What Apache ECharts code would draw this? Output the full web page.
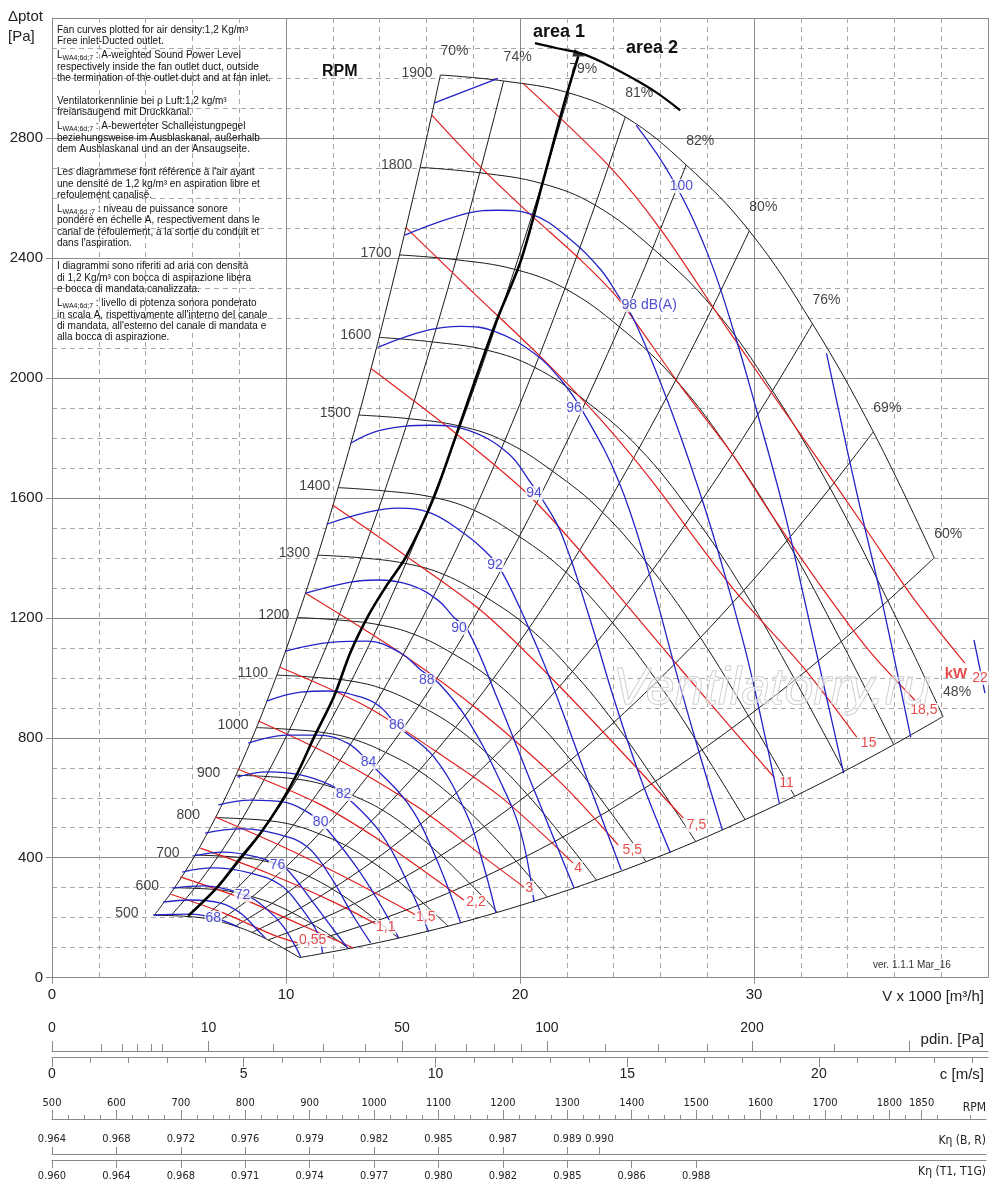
<!DOCTYPE html>
<html><head><meta charset="utf-8">
<script src="https://cdn.jsdelivr.net/npm/echarts@6/dist/echarts.min.js"></script>
<style>html,body{margin:0;padding:0;background:#fff}#c{width:1000px;height:1184px}</style>
</head><body><div id="c"></div>
<script>
// ---------------- DATA ----------------
const rpmValues = [500,600,700,800,900,1000,1100,1200,1300,1400,1500,1600,1700,1800,1900];
// fan curves, points at the crossings with the efficiency lines [V x1000 m3/h, Pa]
const rpmCurves = [
 [[4.37,208],[5.08,207],[5.82,204],[6.45,199],[7.13,188],[7.84,172],[8.55,151],[9.24,126],[9.92,97],[10.58,67]],
 [[5.24,300],[6.09,298],[6.98,294],[7.74,286],[8.56,270],[9.41,248],[10.26,217],[11.08,181],[11.91,140],[12.69,97]],
 [[6.12,409],[7.11,406],[8.14,400],[9.03,390],[9.98,368],[10.98,338],[11.97,296],[12.93,247],[13.89,190],[14.81,132]],
 [[6.99,534],[8.13,530],[9.31,523],[10.32,509],[11.41,480],[12.55,441],[13.68,386],[14.78,323],[15.87,248],[16.93,172]],
 [[7.86,675],[9.14,671],[10.47,662],[11.61,644],[12.84,608],[14.12,559],[15.39,489],[16.63,408],[17.86,314],[19.04,218]],
 [[8.74,834],[10.16,828],[11.63,817],[12.89,795],[14.26,751],[15.68,690],[17.11,604],[18.47,504],[19.84,388],[21.16,269]],
 [[9.61,1009],[11.17,1002],[12.79,989],[14.18,962],[15.69,908],[17.25,835],[18.82,731],[20.32,610],[21.83,469],[23.27,325]],
 [[10.48,1201],[12.19,1193],[13.96,1177],[15.47,1145],[17.12,1081],[18.82,993],[20.53,870],[22.17,726],[23.81,558],[25.39,387]],
 [[11.36,1409],[13.21,1400],[15.12,1381],[16.76,1344],[18.54,1269],[20.39,1166],[22.24,1021],[24.02,852],[25.79,655],[27.51,454]],
 [[12.23,1634],[14.22,1623],[16.28,1602],[18.05,1558],[19.97,1471],[21.96,1352],[23.95,1184],[25.86,988],[27.78,760],[29.62,527]],
 [[13.11,1876],[15.24,1864],[17.45,1839],[19.34,1789],[21.39,1689],[23.53,1552],[25.66,1359],[27.71,1134],[29.76,873],[31.74,605]],
 [[13.98,2135],[16.25,2120],[18.61,2092],[20.63,2035],[22.82,1922],[25.09,1766],[27.37,1546],[29.56,1291],[31.75,993],[33.85,688]],
 [[14.85,2410],[17.27,2394],[19.77,2362],[21.92,2298],[24.25,2170],[26.66,1993],[29.08,1745],[31.41,1457],[33.73,1121],[35.97,777]],
 [[15.73,2702],[18.28,2684],[20.94,2648],[23.21,2576],[25.67,2432],[28.23,2235],[30.79,1957],[33.25,1633],[35.72,1257],[38.08,871]],
 [[16.6,3010],[19.3,2990],[22.1,2950],[24.5,2870],[27.1,2710],[29.8,2490],[32.5,2180],[35.1,1820],[37.7,1400]]
];
const effLabels = ['70%','74%','79%','81%','82%','80%','76%','69%','60%','48%'];

// sound power level curves dB(A)
const dbCurves = [
 [[4.33,209],[5.91,212],[6.98,199],[7.97,169]],
 [[4.75,252],[5.91,259],[7.20,249],[8.05,216],[8.78,159],[9.12,132]],
 [[5.14,299],[6.47,306],[7.62,292],[8.14,276],[8.69,259],[9.77,182],[10.49,92],[10.62,69]],
 [[5.57,352],[6.90,366],[8.48,349],[9.77,309],[10.62,236],[11.35,149],[11.56,82]],
 [[6.04,406],[7.32,419],[8.78,402],[9.64,376],[10.07,359],[11.18,249],[12.04,159],[12.63,99]],
 [[6.55,482],[8.05,496],[9.77,476],[10.92,436],[11.91,336],[12.85,209],[13.62,116]],
 [[7.11,576],[8.48,592],[9.89,586],[10.92,552],[11.48,519],[12.89,382],[13.92,259],[14.82,132]],
 [[7.92,669],[9.21,686],[10.62,676],[11.91,642],[12.46,612],[14.05,482],[15.20,316],[16.10,152]],
 [[8.39,782],[10.07,809],[11.35,809],[12.63,782],[13.53,719],[15.20,582],[16.32,416],[17.47,182]],
 [[9.17,922],[10.62,952],[11.78,956],[13.19,936],[14.05,902],[14.73,842],[16.32,736],[17.77,536],[18.46,369],[18.97,216]],
 [[9.98,1089],[12.04,1119],[13.49,1122],[14.91,1082],[15.76,1026],[16.53,982],[17.77,859],[19.19,649],[20.04,482],[20.60,252]],
 [[10.84,1282],[12.76,1319],[13.92,1326],[15.33,1309],[16.49,1259],[17.17,1202],[17.77,1159],[19.06,926],[20.69,609],[22.31,299]],
 [[11.74,1512],[13.32,1549],[14.78,1566],[16.19,1549],[17.60,1482],[18.46,1426],[19.19,1359],[20.60,1126],[21.63,926],[23.04,626],[24.33,359]],
 [[12.76,1782],[14.05,1826],[16.19,1842],[17.77,1826],[19.49,1749],[20.47,1649],[20.90,1602],[21.76,1482],[22.91,1216],[24.03,926],[25.18,659],[26.43,416]],
 [[13.92,2102],[16.06,2159],[17.47,2172],[18.89,2156],[20.60,2082],[21.76,1992],[22.70,1886],[24.20,1659],[25.48,1359],[26.77,992],[27.75,726],[28.65,492]],
 [[15.08,2476],[17.77,2549],[19.06,2559],[20.47,2546],[22.19,2459],[23.47,2359],[24.24,2269],[24.88,2192],[26.34,1916],[27.75,1602],[28.61,1382],[29.60,1102],[30.32,859],[31.09,579]],
 [[16.32,2916],[19.06,2999]],
 [[24.97,2842],[26.47,2669],[28.01,2416],[29.16,2149],[30.11,1892],[31.31,1549],[32.16,1259],[32.98,976],[33.83,682]],
 [[33.10,2082],[34.05,1736],[34.69,1516],[35.46,1259],[36.70,802]],
 [[39.40,1126],[39.87,949]]
];
const dbLabels = [
 [6.89,199,'68'],[8.14,276,'72'],[9.64,376,'76'],[11.48,519,'80'],[12.46,612,'82'],
 [13.53,719,'84'],[14.73,842,'86'],[16.02,992,'88'],[17.39,1166,'90'],[18.93,1376,'92'],
 [20.60,1616,'94'],[22.31,1899,'96'],[25.52,2242,'98 dB(A)'],[26.90,2639,'100']
];

// absorbed power curves kW
const kwCurves = [
 [[5.05,279],[7.32,216],[9.47,142],[10.49,116]],
 [[5.48,336],[8.05,266],[10.19,192],[12.89,99]],
 [[6.34,432],[9.21,349],[12.04,252],[13.92,176]],
 [[6.98,536],[9.89,436],[12.76,326],[15.55,209]],
 [[7.92,696],[11.35,582],[14.18,449],[17.60,259]],
 [[8.82,856],[12.04,736],[15.63,569],[18.46,402],[20.17,302]],
 [[9.72,1036],[13.49,902],[16.32,759],[19.19,602],[22.27,382]],
 [[10.84,1282],[14.91,1082],[18.33,886],[21.76,649],[24.20,442]],
 [[11.99,1576],[15.20,1402],[18.46,1216],[21.76,966],[26.98,532]],
 [[13.62,2032],[17.35,1809],[20.47,1602],[23.47,1342],[26.90,1026],[30.88,666]],
 [[15.12,2502],[17.90,2292],[20.90,2069],[23.47,1859],[25.61,1659],[29.16,1292],[32.03,1042],[34.39,802]],
 [[16.23,2876],[18.33,2702],[20.34,2552],[22.61,2392],[24.07,2276],[24.88,2192],[26.90,1969],[29.04,1749],[30.62,1559],[32.76,1316],[34.90,1092],[36.87,926]],
 [[20.13,2982],[23.81,2706],[26.04,2492],[28.99,2149],[32.46,1759],[34.73,1502],[36.87,1259],[39.01,1049]]
];
const kwLabels = [
 [11.14,126,'0,55'],[14.26,169,'1,1'],[15.97,202,'1,5'],[18.12,252,'2,2'],[20.39,299,'3'],
 [22.48,366,'4'],[24.80,426,'5,5'],[27.54,509,'7,5'],[31.39,649,'11'],[34.90,782,'15'],
 [37.26,893,'18,5'],[39.66,999,'22']
];
const kwTitle = [38.63,1012,'kW'];

// area 1 / area 2 boundary and arrow arc
const areaLine = [[5.82,206],[7.07,302],[8.05,399],[8.91,482],[9.77,582],[10.49,682],[11.18,799],[12.04,936],[12.76,1086],[13.53,1209],[14.31,1309],[15.12,1402],[16.32,1602],[17.39,1836],[18.89,2169],[20.04,2392],[21.03,2669],[21.89,2916],[22.49,3072]];
const areaArc = [[20.64,3116],[21.58,3099],[22.61,3082],[23.68,3046],[24.75,3002],[25.82,2952],[26.85,2892]];
const areaArrow = [22.53,3078];

// secondary scales
const pdinMajor = [0,10,50,100,200,300];
const pdinMinor = [1,2,3,4,5,20,30,40,60,70,80,90,125,150,175,250];
const pdinLabelVals = [0,10,50,100,200];
const cMajor = [0,5,10,15,20];
const cMinor = [1,2,3,4,6,7,8,9,11,12,13,14,16,17,18,19,21,22,23,24];
const rpmScaleLabels = [500,600,700,800,900,1000,1100,1200,1300,1400,1500,1600,1700,1800,1850];
const kBRrpm = [500,600,700,800,900,1000,1100,1200,1300,1350];
const kBR = ['0.964','0.968','0.972','0.976','0.979','0.982','0.985','0.987','0.989','0.990'];
const kT1rpm = [500,600,700,800,900,1000,1100,1200,1300,1400,1500];
const kT1 = ['0.960','0.964','0.968','0.971','0.974','0.977','0.980','0.982','0.985','0.986','0.988'];

const noteLines = [
 ['Fan curves plotted for air density:1,2 Kg/m³'],
 ['Free inlet-Ducted outlet.'],
 ['L','WA4;6d;7',' : A-weighted Sound Power Level'],
 ['respectively inside the fan outlet duct, outside'],
 ['the termination of the outlet duct and at fan inlet.'],
 [''],
 ['Ventilatorkennlinie bei ρ Luft:1,2 kg/m³'],
 ['freiansaugend mit Druckkanal.'],
 ['L','WA4;6d;7',' : A-bewerteter Schalleistungpegel'],
 ['beziehungsweise im Ausblaskanal, außerhalb'],
 ['dem Ausblaskanal und an der Ansaugseite.'],
 [''],
 ['Les diagrammese font référence à l\'air ayant'],
 ['une densité de 1,2 kg/m³ en aspiration libre et'],
 ['refoulement canalisé.'],
 ['L','WA4;6d ;7',' : niveau de puissance sonore'],
 ['pondéré en échelle A, respectivement dans le'],
 ['canal de réfoulement, à la sortie du conduit et'],
 ['dans l\'aspiration.'],
 [''],
 ['I diagrammi sono riferiti ad aria con densità'],
 ['di 1,2 Kg/m³ con bocca di aspirazione libera'],
 ['e bocca di mandata canalizzata.'],
 ['L','WA4;6d;7',' : livello di potenza sonora ponderato'],
 ['in scala A, rispettivamente all\'interno del canale'],
 ['di mandata, all\'esterno del canale di mandata e'],
 ['alla bocca di aspirazione.']
];

// ---------------- CHART ----------------
const FONT = "'Liberation Sans', Arial, Helvetica, sans-serif";
const NARROW = "'Liberation Sans Narrow', 'Arial Narrow', 'DejaVu Sans Condensed', 'Liberation Sans', sans-serif";
const BLACK = '#1a1a1a', BLUE = '#2323c8', RED = '#e01e1e', GRID = '#8a8a8a', GRID2 = '#a8a8a8';
const plain = v => String(v);

const series = [];
function addLine(data, color, width, z, smooth) {
  series.push({type:'line', xAxisIndex:0, yAxisIndex:0, data, showSymbol:false, symbol:'none',
    smooth, lineStyle:{color, width}, silent:true, z, animation:false});
}
rpmCurves.forEach(c => addLine(c, BLACK, 1, 3, 0.4));
effLabels.forEach((_, i) => addLine(rpmCurves.map(c => c[i]).filter(Boolean), BLACK, 1, 3, 0.3));
kwCurves.forEach(c => addLine(c, RED, 1.2, 4, 0.3));
dbCurves.forEach(c => addLine(c, BLUE, 1.3, 5, 0.4));
addLine(areaLine, '#000', 2.6, 6, 0.3);
addLine(areaArc, '#000', 2.2, 6, 0.4);
series.push({type:'scatter', xAxisIndex:0, yAxisIndex:0, data:[areaArrow], symbol:'triangle', symbolSize:[8,12],
  symbolRotate:-108, itemStyle:{color:'#000'}, z:7, silent:true, animation:false});

function labelSeries(data, label, z) {
  series.push({type:'scatter', xAxisIndex:0, yAxisIndex:0, data, symbolSize:1,
    itemStyle:{color:'rgba(0,0,0,0)'}, label:Object.assign({show:true, formatter:'{b}', position:'inside', fontFamily:FONT}, label),
    z, silent:true, animation:false});
}
labelSeries(rpmCurves.map((c, i) => ({value:c[0], name:String(rpmValues[i])})),
  {offset:[-39,-2], align:'left', verticalAlign:'middle', fontSize:14, color:'#111'}, 8);
labelSeries(effLabels.map((t, i) => { const pts = rpmCurves.map(c => c[i]).filter(Boolean); return {value:pts[pts.length-1], name:t}; }),
  {offset:[14,-24], align:'center', verticalAlign:'middle', fontSize:14, color:'#111'}, 8);
labelSeries(dbLabels.map(d => ({value:[d[0], d[1]], name:d[2]})),
  {align:'center', verticalAlign:'middle', fontSize:14, color:BLUE, backgroundColor:'#fff', padding:[0,1]}, 9);
labelSeries(kwLabels.map(d => ({value:[d[0], d[1]], name:d[2]})),
  {align:'center', verticalAlign:'middle', fontSize:14, color:RED, backgroundColor:'#fff', padding:[0,1]}, 9);
labelSeries([{value:[kwTitle[0], kwTitle[1]], name:kwTitle[2]}],
  {align:'center', verticalAlign:'middle', fontSize:15, fontWeight:'bold', color:RED}, 9);

// bottom scales: grids and axes
const L = 52, W = 936;
const grids = [
  {left:L, top:18, width:W, height:959.7},
  {left:L, top:1050, width:W, height:1},
  {left:L, top:1050, width:W, height:1},
  {left:L, top:1056, width:W, height:1},
  {left:L, top:1056, width:W, height:1},
  {left:L, top:1118, width:934, height:1},
  {left:L, top:1153, width:934, height:1},
  {left:L, top:1159, width:934, height:1}
].map(g => Object.assign({outerBoundsMode:'none', containLabel:false}, g));

const axLine = {show:true, lineStyle:{color:GRID, width:1}};
const tickStyle = {color:GRID, width:1};
const xAxes = [
  {gridIndex:0, type:'value', min:0, max:40, interval:10, axisLine:axLine,
   axisTick:{show:true, length:6, lineStyle:tickStyle},
   axisLabel:{fontSize:15, color:'#222', margin:10, showMaxLabel:false, fontFamily:FONT, formatter:plain},
   splitLine:{show:true, lineStyle:{color:GRID, width:1}},
   minorTick:{show:false, splitNumber:5},
   minorSplitLine:{show:true, lineStyle:{color:GRID2, width:1, type:[5,4]}}},
  {gridIndex:1, type:'value', position:'top', min:0, max:18.91, axisLine:axLine,
   axisTick:{show:true, length:10, lineStyle:tickStyle, customValues:pdinMajor.map(Math.sqrt)},
   axisLabel:{show:true, customValues:pdinLabelVals.map(Math.sqrt), formatter:v => String(Math.round(v*v)),
     fontSize:14, color:'#222', margin:15, fontFamily:FONT},
   splitLine:{show:false}},
  {gridIndex:2, type:'value', position:'top', min:0, max:18.91, axisLine:{show:false},
   axisTick:{show:true, length:7, lineStyle:tickStyle, customValues:pdinMinor.map(Math.sqrt)},
   axisLabel:{show:false}, splitLine:{show:false}},
  {gridIndex:3, type:'value', position:'bottom', min:0, max:24.41, axisLine:axLine,
   axisTick:{show:true, length:10, lineStyle:tickStyle, customValues:cMajor},
   axisLabel:{show:true, customValues:cMajor, fontSize:14, color:'#222', margin:10, fontFamily:FONT, formatter:plain},
   splitLine:{show:false}},
  {gridIndex:4, type:'value', position:'bottom', min:0, max:24.41, axisLine:{show:false},
   axisTick:{show:true, length:6, lineStyle:tickStyle, customValues:cMinor},
   axisLabel:{show:false}, splitLine:{show:false}},
  {gridIndex:5, type:'value', position:'top', min:500, max:1950, interval:100, axisLine:axLine,
   axisTick:{show:true, length:9, lineStyle:tickStyle, customValues:rpmScaleLabels},
   minorTick:{show:true, splitNumber:4, length:4, lineStyle:tickStyle},
   axisLabel:{show:true, customValues:rpmScaleLabels, fontSize:11, color:'#222', margin:9, fontFamily:NARROW, formatter:plain},
   splitLine:{show:false}},
  {gridIndex:6, type:'value', position:'top', min:500, max:1950, axisLine:axLine,
   axisTick:{show:true, length:7, lineStyle:tickStyle, customValues:kBRrpm},
   axisLabel:{show:true, customValues:kBRrpm, formatter:v => kBR[kBRrpm.indexOf(v)] || '',
     fontSize:11, color:'#222', margin:8, fontFamily:NARROW},
   splitLine:{show:false}},
  {gridIndex:7, type:'value', position:'bottom', min:500, max:1950, axisLine:axLine,
   axisTick:{show:true, length:8, lineStyle:tickStyle, customValues:kT1rpm},
   axisLabel:{show:true, customValues:kT1rpm, formatter:v => kT1[kT1rpm.indexOf(v)] || '',
     fontSize:11, color:'#222', margin:11, fontFamily:NARROW},
   splitLine:{show:false}}
];
const yAxes = [
  {gridIndex:0, type:'value', min:0, max:3200, interval:400, axisLine:axLine,
   axisTick:{show:true, length:6, lineStyle:tickStyle},
   axisLabel:{fontSize:15, color:'#222', margin:9, showMaxLabel:false, fontFamily:FONT, formatter:plain},
   splitLine:{show:true, lineStyle:{color:GRID, width:1}},
   minorTick:{show:false, splitNumber:4},
   minorSplitLine:{show:true, lineStyle:{color:GRID2, width:1, type:[5,4]}}}
];
for (let i = 1; i < grids.length; i++) yAxes.push({gridIndex:i, type:'value', show:false, min:0, max:1});

// text graphics
const graphic = [];
function txt(text, x, y, o) {
  graphic.push({type:'text', x, y, z:50, silent:true,
    style:Object.assign({text, fill:'#222', fontSize:15, fontFamily:FONT, verticalAlign:'middle', align:'left'}, o || {})});
}
let ny = 30;
noteLines.forEach((ln, k) => {
  const isL = ln.length === 3;
  if (k > 0) ny += 11.45 + (isL ? 2.5 : 0);
  if (ln[0] === '') return;
  if (isL) {
    txt('{m|' + ln[0] + '}{s|' + ln[1] + '}{m|' + ln[2] + '}', 57, ny, {fontSize:10, fill:'#111',
      rich:{m:{fontSize:10, fontFamily:FONT, fill:'#111', lineHeight:12, verticalAlign:'middle'},
            s:{fontSize:7, fontFamily:FONT, fill:'#111', lineHeight:12, verticalAlign:'bottom', padding:[5,0,0,0]}}});
  } else {
    txt(ln[0], 57, ny, {fontSize:10, fill:'#111'});
  }
});
txt('\u0394ptot', 8, 17);
txt('[Pa]', 8, 37);
txt('V x 1000 [m³/h]', 984, 997, {align:'right'});
txt('pdin. [Pa]', 984, 1040, {align:'right'});
txt('c [m/s]', 984, 1075, {align:'right'});
txt('RPM', 986, 1108, {align:'right', fontSize:12, fontFamily:NARROW});
txt('K\u03b7 (B, R)', 986, 1141, {align:'right', fontSize:12, fontFamily:NARROW});
txt('K\u03b7 (T1, T1G)', 986, 1172, {align:'right', fontSize:12, fontFamily:NARROW});
txt('ver. 1.1.1 Mar_16', 873, 965, {fontSize:10, fill:'#333'});
txt('RPM', 322, 72, {fontSize:16, fontWeight:'bold', fill:'#111'});
txt('area 1', 533, 32, {fontSize:18, fontWeight:'bold', fill:'#111'});
txt('area 2', 626, 48, {fontSize:18, fontWeight:'bold', fill:'#111'});
graphic.push({type:'text', x:772, y:690, z:60, silent:true,
  style:{text:'Ventilatorry.ru', fontSize:52, fontStyle:'italic', fontFamily:FONT, align:'center', verticalAlign:'middle',
    fill:'rgba(255,255,255,0.45)', stroke:'#c4c4c4', lineWidth:1}});

const chart = echarts.init(document.getElementById('c'), null, {renderer:'canvas'});
chart.setOption({
  animation:false,
  backgroundColor:'#fff',
  textStyle:{fontFamily:FONT},
  grid:grids, xAxis:xAxes, yAxis:yAxes, series, graphic
});
</script></body></html>
